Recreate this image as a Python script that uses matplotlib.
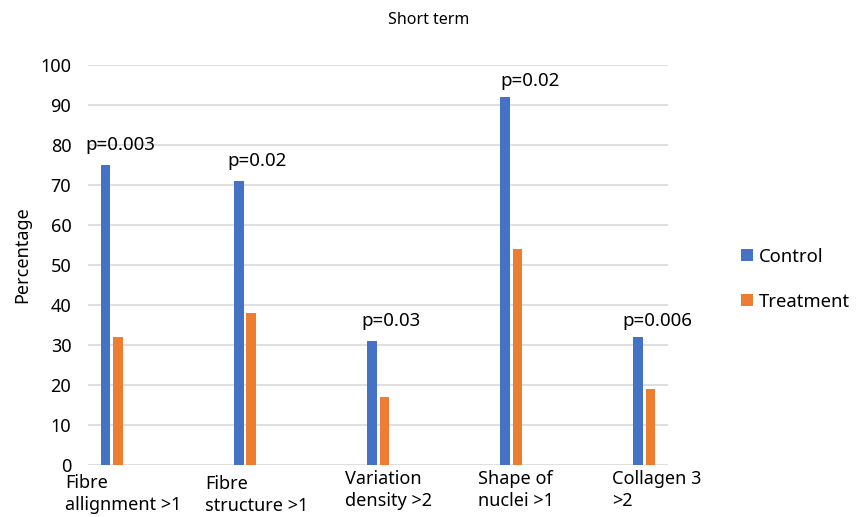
import matplotlib

matplotlib.use("Agg")
import matplotlib.pyplot as plt
import numpy as np
from matplotlib.transforms import blended_transform_factory, offset_copy

plt.rcParams["font.family"] = ["Noto Sans", "DejaVu Sans"]

categories = [
    "Fibre\nallignment >1",
    "Fibre\nstructure >1",
    "Variation\ndensity >2",
    "Shape of\nnuclei >1",
    "Collagen 3\n>2",
]
control = [75, 71, 31, 92, 32]
treatment = [32, 38, 17, 54, 19]
p_labels = ["p=0.003", "p=0.02", "p=0.03", "p=0.02", "p=0.006"]
p_heights = [80, 76, 36, 96, 36]

BLUE = "#4472c4"
ORANGE = "#ed7d31"
GRID = "#d9d9d9"

fig = plt.figure(figsize=(8.66, 5.17), dpi=100)
ax = fig.add_axes([0.1016, 0.1006, 0.67, 0.7737])

x = np.arange(len(categories))
w = 0.072
ax.bar(x - 0.047, control, width=w, color=BLUE, label="Control", zorder=3)
ax.bar(x + 0.047, treatment, width=w, color=ORANGE, label="Treatment", zorder=3)

ax.set_xlim(-0.18, 4.18)
ax.set_ylim(0, 100)
ax.set_yticks(range(0, 101, 10))
ax.yaxis.grid(True, color=GRID, linewidth=1.2, zorder=0)
ax.set_axisbelow(True)
for s in ax.spines.values():
    s.set_visible(False)
ax.tick_params(axis="y", length=0, labelsize=13, pad=12)
ax.set_xticks([])

# p-value annotations above each group
p_dx = [0.06, 0.09, 0.10, 0.14, 0.10]
for i, (lab, h) in enumerate(zip(p_labels, p_heights)):
    ax.text(x[i] + p_dx[i], h, lab, ha="center", va="center", fontsize=13.5)

# category labels, left aligned under each group
trans = blended_transform_factory(ax.transData, ax.transAxes)
lab_dx = [-47, -40, -33, -33, -32]
lab_dy = [-9, -10, -5, -5, -5]
for i, lab in enumerate(categories):
    t = offset_copy(trans, fig=fig, x=lab_dx[i], y=lab_dy[i], units="dots")
    ax.text(x[i], 0, lab, transform=t, ha="left", va="top", fontsize=13,
            linespacing=1.3)

ax.set_ylabel("Percentage", fontsize=13)
ax.yaxis.set_label_coords(-0.098, 0.525)
fig.text(0.495, 0.962, "Short term", ha="center", va="center", fontsize=11.5)

ax.legend(loc="center left", bbox_to_anchor=(0.836, 0.46),
          bbox_transform=fig.transFigure, frameon=False, fontsize=13.3,
          handlelength=0.65, handleheight=0.65, handletextpad=0.35,
          labelspacing=1.45)

fig.savefig("out.png", dpi=100)
